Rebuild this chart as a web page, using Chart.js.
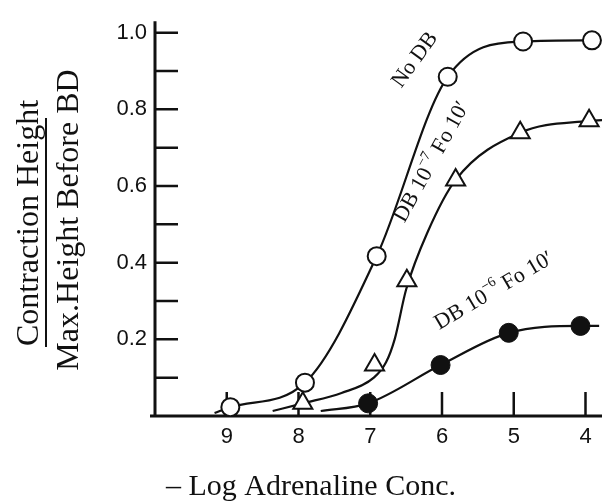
<!DOCTYPE html>
<html>
<head>
<meta charset="utf-8">
<script src="https://cdn.jsdelivr.net/npm/chart.js@4/dist/chart.umd.min.js"></script>
<style>
  html, body { margin: 0; padding: 0; background: #fff; }
</style>
</head>
<body>
<canvas id="doseChart" width="615" height="501"></canvas>
<script>
/* ── data (x = -log adrenaline conc.) ───────────────────────── */
const xTicks = [9, 8, 7, 6, 5, 4];
const yTicks = [0.1, 0.2, 0.3, 0.4, 0.5, 0.6, 0.7, 0.8, 0.9, 1.0];
const yLabelled = [0.2, 0.4, 0.6, 0.8, 1.0];

// measured points
const noDbX = [8.95, 7.91, 6.91, 5.92, 4.87, 3.91];
const noDbY = [0.023, 0.087, 0.417, 0.885, 0.977, 0.98];
const db7X  = [7.94, 6.94, 6.49, 5.81, 4.91, 3.95];
const db7Y  = [0.033, 0.133, 0.353, 0.616, 0.739, 0.77];
const db6X  = [7.03, 6.02, 5.07, 4.07];
const db6Y  = [0.033, 0.133, 0.217, 0.235];

// hand-fitted curves
const noDbFitX = [9.17, 8.95, 7.91, 6.91, 5.92, 4.87, 3.91];
const noDbFitY = [0.008, 0.023, 0.087, 0.417, 0.885, 0.977, 0.98];
const db7FitX  = [8.36, 7.94, 7.4, 6.95, 6.78, 6.66, 6.5, 6.2, 5.81, 4.91, 3.95, 3.77];
const db7FitY  = [0.013, 0.033, 0.06, 0.1, 0.14, 0.2, 0.33, 0.48, 0.616, 0.739, 0.77, 0.772];
const db6FitX  = [7.69, 7.03, 6.02, 5.07, 4.07, 3.81];
const db6FitY  = [0.013, 0.033, 0.133, 0.217, 0.235, 0.235];

const INK = '#111';
const pts = (xs, ys) => xs.map((x, i) => ({ x: x, y: ys[i] }));

function fitLine(xs, ys) {
  return { type: 'line', data: pts(xs, ys), borderColor: INK, borderWidth: 2.2,
    pointRadius: 0, cubicInterpolationMode: 'monotone', fill: false, order: 2 };
}

/* ── axes, inward ticks and annotations ─────────────────────── */
function rotText(ctx, parts, cx, cy, deg, size) {
  ctx.save();
  ctx.translate(cx, cy);
  ctx.rotate(deg * Math.PI / 180);
  ctx.textBaseline = 'middle';
  ctx.textAlign = 'left';
  let w = 0;
  parts.forEach(p => {
    ctx.font = (p.sup ? Math.round(size * 0.62) : size) + 'px "Liberation Serif"';
    p.w = ctx.measureText(p.t).width;
    w += p.w;
  });
  let x = -w / 2;
  parts.forEach(p => {
    ctx.font = (p.sup ? Math.round(size * 0.62) : size) + 'px "Liberation Serif"';
    ctx.fillText(p.t, x, p.sup ? -size * 0.38 : 0);
    x += p.w;
  });
  ctx.restore();
}

const figurePlugin = {
  id: 'figure',
  beforeDatasetsDraw(chart) {
    const { ctx, chartArea: a, scales: { x, y } } = chart;
    ctx.save();
    ctx.strokeStyle = INK;
    ctx.lineWidth = 2.5;
    ctx.beginPath();
    xTicks.forEach(v => { const px = x.getPixelForValue(v); ctx.moveTo(px, a.bottom); ctx.lineTo(px, a.bottom - 24); });
    yTicks.forEach(v => { const py = y.getPixelForValue(v); ctx.moveTo(a.left, py); ctx.lineTo(a.left + 23, py); });
    ctx.stroke();
    ctx.lineWidth = 3;
    ctx.beginPath();
    ctx.moveTo(a.left, a.top);
    ctx.lineTo(a.left, a.bottom);
    ctx.moveTo(a.left - 5, a.bottom);
    ctx.lineTo(a.right, a.bottom);
    ctx.stroke();
    ctx.restore();
  },
  afterDraw(chart) {
    const { ctx } = chart;
    ctx.save();
    ctx.fillStyle = INK;
    ctx.strokeStyle = INK;

    // x title
    ctx.font = '30px "Liberation Serif"';
    ctx.textAlign = 'center';
    ctx.textBaseline = 'alphabetic';
    ctx.fillText('\u2013 Log Adrenaline Conc.', 311, 495);

    // y title as a fraction
    ctx.save();
    ctx.translate(38, 223);
    ctx.rotate(-Math.PI / 2);
    ctx.font = '32px "Liberation Serif"';
    ctx.fillText('Contraction Height', 0, 0);
    ctx.restore();
    ctx.save();
    ctx.translate(78, 220);
    ctx.rotate(-Math.PI / 2);
    ctx.font = '32px "Liberation Serif"';
    ctx.fillText('Max.Height Before BD', 0, 0);
    ctx.restore();
    ctx.lineWidth = 2;
    ctx.beginPath();
    ctx.moveTo(46, 118);
    ctx.lineTo(46, 347);
    ctx.stroke();

    // curve labels
    rotText(ctx, [{ t: 'No DB' }], 415, 60, -54, 22);
    rotText(ctx, [{ t: 'DB 10' }, { t: '\u22127', sup: true }, { t: ' Fo 10\u2032' }], 432, 162, -61, 22);
    rotText(ctx, [{ t: 'DB 10' }, { t: '\u22126', sup: true }, { t: ' Fo 10\u2032' }], 494, 291, -30.5, 22);
    ctx.restore();
  }
};

new Chart(document.getElementById('doseChart'), {
  type: 'scatter',
  data: {
    datasets: [
      fitLine(noDbFitX, noDbFitY),
      fitLine(db7FitX, db7FitY),
      fitLine(db6FitX, db6FitY),
      { label: 'No DB', data: pts(noDbX, noDbY), pointStyle: 'circle', pointRadius: 9,
        backgroundColor: '#fff', borderColor: INK, borderWidth: 2, showLine: false, order: 1 },
      { label: 'DB 1e-7', data: pts(db7X, db7Y), pointStyle: 'triangle', pointRadius: 11,
        backgroundColor: '#fff', borderColor: INK, borderWidth: 2, showLine: false, order: 1 },
      { label: 'DB 1e-6', data: pts(db6X, db6Y), pointStyle: 'circle', pointRadius: 9.5,
        backgroundColor: INK, borderColor: INK, borderWidth: 1, showLine: false, order: 1 }
    ]
  },
  options: {
    responsive: false, animation: false,
    layout: { padding: { top: 13, right: 0, left: 0, bottom: 0 } },
    plugins: { legend: { display: false }, tooltip: { enabled: false } },
    scales: {
      x: {
        type: 'linear', reverse: true, min: 3.77, max: 10,
        grid: { display: false, drawTicks: false }, border: { display: false },
        afterBuildTicks: s => { s.ticks = xTicks.map(v => ({ value: v })); },
        afterFit: s => { s.height = 85; },
        ticks: { font: { family: 'Liberation Sans', size: 22 }, color: INK, padding: 8,
          maxRotation: 0, autoSkip: false, callback: v => String(v) }
      },
      y: {
        min: 0, max: 1.03,
        grid: { display: false, drawTicks: false }, border: { display: false },
        afterBuildTicks: s => { s.ticks = yTicks.map(v => ({ value: v })); },
        afterFit: s => { s.width = 155; },
        ticks: { font: { family: 'Liberation Sans', size: 22 }, color: INK, padding: 8, autoSkip: false,
          callback: v => yLabelled.some(l => Math.abs(l - v) < 1e-6) ? v.toFixed(1) : '' }
      }
    }
  },
  plugins: [figurePlugin]
});
</script>
</body>
</html>
